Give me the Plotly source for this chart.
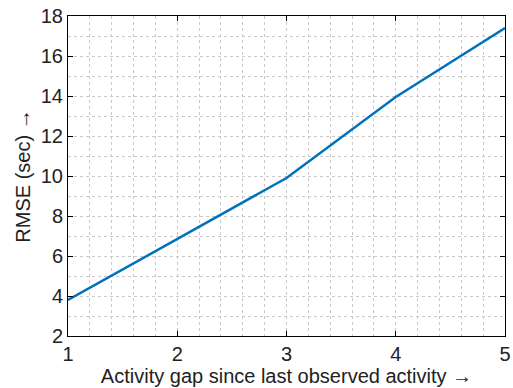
import plotly.graph_objects as go

# Activity gap vs. RMSE
gap = [1, 2, 3, 4, 5]
rmse = [3.8, 6.85, 9.9, 13.95, 17.4]

x_ticks = [1, 2, 3, 4, 5]
y_ticks = [2, 4, 6, 8, 10, 12, 14, 16, 18]

font_family = "Liberation Sans, Arial, Helvetica, sans-serif"
grid_color = "#c8c8c8"

fig = go.Figure()
fig.add_trace(go.Scatter(
    x=gap, y=rmse, mode="lines",
    line=dict(color="#0072BD", width=2.5),
    showlegend=False,
))

axis_common = dict(
    showline=True, linecolor="black", linewidth=1, mirror="ticks",
    ticks="inside", ticklen=5, tickcolor="black", tickwidth=1,
    showgrid=True, gridcolor=grid_color, griddash="dot", gridwidth=1,
    zeroline=False, automargin=False,
    tickfont=dict(family=font_family, size=20, color="#222"),
)

fig.update_layout(
    width=513, height=388,
    margin=dict(l=68, r=8, t=16, b=52),
    paper_bgcolor="white", plot_bgcolor="white",
    font=dict(family=font_family, color="#222"),
    xaxis=dict(
        range=[1, 5], tickvals=x_ticks,
        minor=dict(dtick=0.2, tick0=1, showgrid=True, gridcolor=grid_color,
                   griddash="dot", gridwidth=1, ticks=""),
        title=dict(text="Activity gap since last observed activity \u2192",
                   font=dict(size=20), standoff=2),
        **axis_common,
    ),
    yaxis=dict(
        range=[2, 18], tickvals=y_ticks,
        minor=dict(dtick=1, tick0=2, showgrid=True, gridcolor=grid_color,
                   griddash="dot", gridwidth=1, ticks=""),
        title=dict(text="RMSE (sec) \u2192", font=dict(size=20), standoff=4),
        **axis_common,
    ),
)

fig.write_html("out.html")
